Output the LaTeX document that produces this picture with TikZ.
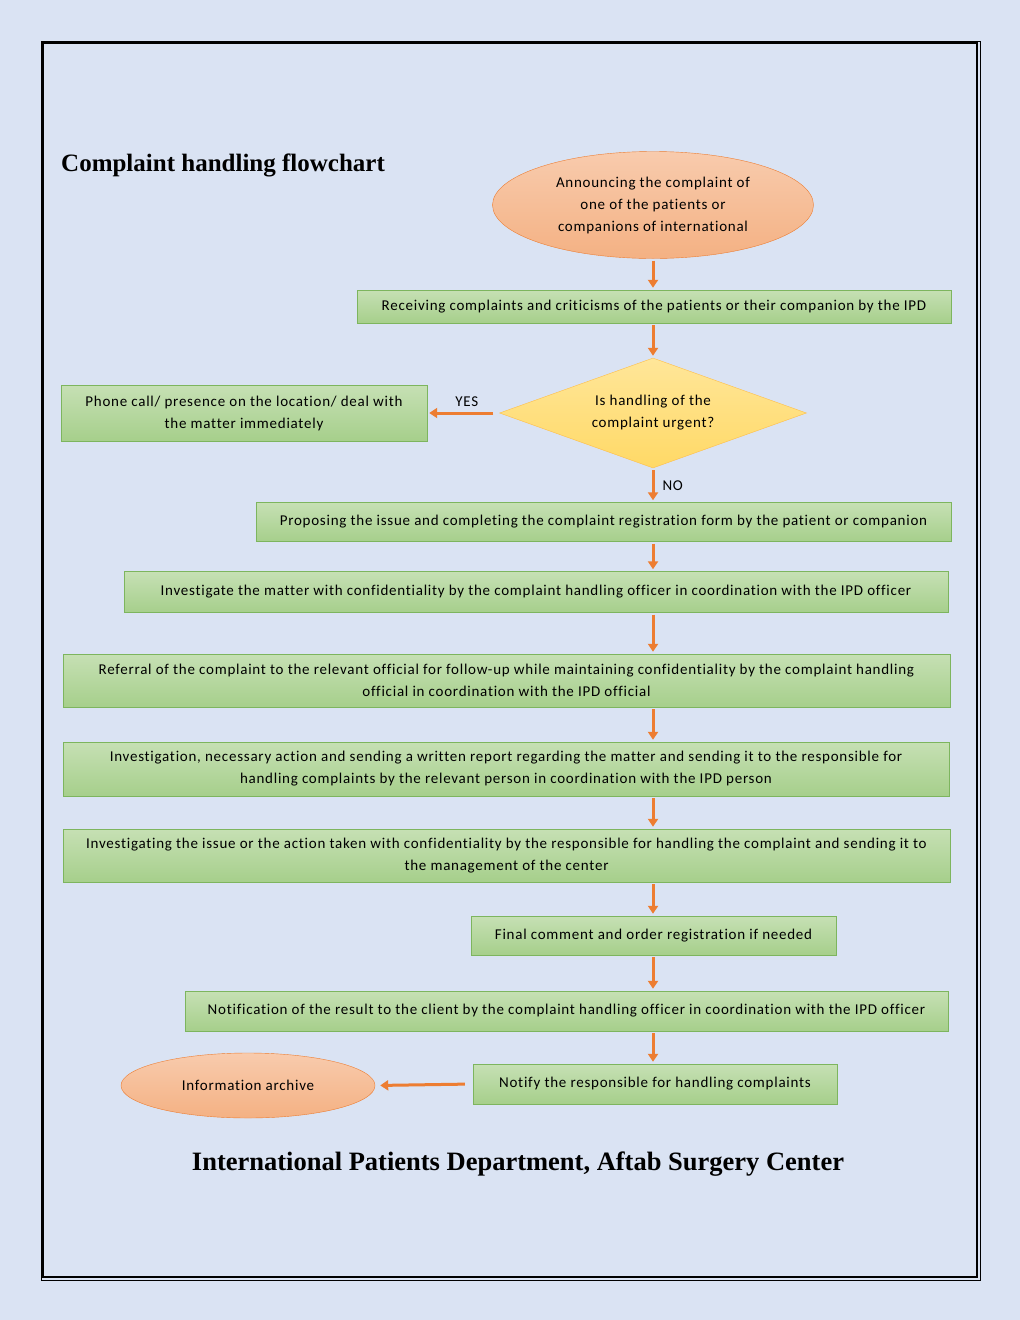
\documentclass[tikz,border=0pt]{standalone}
\usepackage{fontspec}
\setmainfont{Carlito}[LetterSpace=5,Ligatures=NoCommon]
\newfontfamily\titlefont{Liberation Serif}
\usetikzlibrary{positioning}
\usetikzlibrary{shapes.geometric}
\usetikzlibrary{arrows.meta}
\definecolor{pagebg}{HTML}{DAE3F3}
\definecolor{greentop}{HTML}{C6E0B4}
\definecolor{greenbot}{HTML}{A6CF8B}
\definecolor{greenline}{HTML}{7DB55E}
\definecolor{salmontop}{HTML}{F8CBAD}
\definecolor{salmonbot}{HTML}{F4B183}
\definecolor{yellowtop}{HTML}{FFE699}
\definecolor{yellowbot}{HTML}{FFD966}
\definecolor{arrowc}{HTML}{ED7D31}

\begin{document}
\begin{tikzpicture}[x=1pt,y=-1pt,
                    every node/.style={text=black,
                      align=center,
                      inner sep=0pt,
                      font=\fontsize{15}{22}\selectfont},
                    stepbox/.style={draw=greenline,
                      rectangle,
                      top color=greentop,
                      bottom color=greenbot},
                    terminal/.style={draw=arrowc,
                      ellipse,
                      top color=salmontop,
                      bottom color=salmonbot},
                    decision/.style={draw=yellowbot!70!orange,
                      diamond,
                      top color=yellowtop,
                      bottom color=yellowbot},
                    arr/.style={draw=arrowc,
                      line width=3pt,
                      -{Triangle[length=8pt,width=10pt]},
                      shorten <=2pt,
                      shorten >=2pt}]
\fill[pagebg] (0,0) rectangle (1020,1320);
\useasboundingbox (0,0) rectangle (1020,1320);
\draw[line width=2.5pt] (42.5,42.5) rectangle (977,1277);
\draw[line width=0.8pt] (41,41) rectangle (980,1280);
\coordinate (axis) at (653,0);

% titles
\node (title) [anchor=west, font=\titlefont\bfseries\fontsize{25}{28}\selectfont] at (61,165) {Complaint handling flowchart};
\node (footer) [font=\titlefont\bfseries\fontsize{26.5}{30}\selectfont] at (518,1164) {International Patients Department, Aftab Surgery Center};

% flow
\node (a) [terminal, minimum width=321, minimum height=107] at (653,205) {Announcing the complaint of\\one of the patients or\\companions of international};
\node (b) [stepbox, minimum width=594, minimum height=33] at (654,306.5) {Receiving complaints and criticisms of the patients or their companion by the IPD};
\node (c) [decision, minimum width=307, minimum height=110, aspect=2.8] at (653,413) {Is handling of the\\complaint urgent?};
\node (d) [stepbox, minimum width=366, minimum height=56] at (244,413) {Phone call/ presence on the location/ deal with\\the matter immediately};
\node (e) [stepbox, minimum width=695, minimum height=39] at (603.5,522) {Proposing the issue and completing the complaint registration form by the patient or companion};
\node (f) [stepbox, minimum width=824, minimum height=41] at (536,592) {Investigate the matter with confidentiality by the complaint handling officer in coordination with the IPD officer};
\node (g) [stepbox, minimum width=887, minimum height=53] at (506.5,680.5) {Referral of the complaint to the relevant official for follow-up while maintaining confidentiality by the complaint handling\\official in coordination with the IPD official};
\node (h) [stepbox, minimum width=886, minimum height=54] at (506,769) {Investigation, necessary action and sending a written report regarding the matter and sending it to the responsible for\\handling complaints by the relevant person in coordination with the IPD person};
\node (i) [stepbox, minimum width=887, minimum height=53] at (506.5,855.5) {Investigating the issue or the action taken with confidentiality by the responsible for handling the complaint and sending it to\\the management of the center};
\node (j) [stepbox, minimum width=365, minimum height=39] at (653.5,935.5) {Final comment and order registration if needed};
\node (k) [stepbox, minimum width=763, minimum height=40] at (566.5,1011) {Notification of the result to the client by the complaint handling officer in coordination with the IPD officer};
\node (l) [stepbox, minimum width=364, minimum height=40] at (655,1084) {Notify the responsible for handling complaints};
\node (m) [terminal, minimum width=254, minimum height=65] at (248,1085.5) {Information archive};

\draw[arr] (a.south -| axis) -- (b.north -| axis);
\draw[arr] (b.south -| axis) -- (c.north -| axis);
\draw[arr, shorten <=6pt] (c.west) -- node[above=5pt, pos=0.45] {YES} (d.east);
\draw[arr] (c.south -| axis) -- node[right=8pt] {NO} (e.north -| axis);
\draw[arr] (e.south -| axis) -- (f.north -| axis);
\draw[arr] (f.south -| axis) -- (g.north -| axis);
\draw[arr] (g.south -| axis) -- (h.north -| axis);
\draw[arr] (h.south -| axis) -- (i.north -| axis);
\draw[arr] (i.south -| axis) -- (j.north -| axis);
\draw[arr] (j.south -| axis) -- (k.north -| axis);
\draw[arr] (k.south -| axis) -- (l.north -| axis);
\draw[arr, shorten <=8pt, shorten >=5pt] (l.west) -- (m.east);
\end{tikzpicture}
\end{document}
